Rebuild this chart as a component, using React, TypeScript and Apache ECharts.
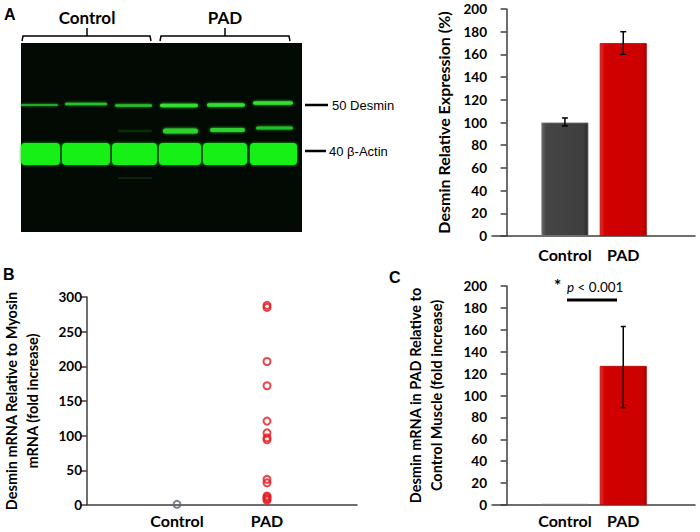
import React, { useEffect, useRef } from "react";
import * as echarts from "echarts";

// ---------- data ----------
const categories = ["Control", "PAD"];
// Panel A: desmin relative expression (%)
const aValues = [100, 170];
const aErrLow = [97, 160];
const aErrHigh = [104, 180];
// Panel B: desmin mRNA relative to myosin mRNA (fold increase)
const bControl = [1];
const bPAD = [288, 285, 207, 172, 121, 104, 97, 94, 37, 32, 13, 11, 9, 7];
// Panel C: desmin mRNA in PAD relative to control muscle (fold increase)
const cValues = [1, 127];
const cErrLow = [null, 89];
const cErrHigh = [null, 163];

const FONT = "Lato";
const AXIS_COLOR = "#3f3f3f";

function barColor(i: number) {
  return i === 0
    ? new echarts.graphic.LinearGradient(0, 0, 1, 0, [
        { offset: 0, color: "#666666" },
        { offset: 0.1, color: "#454545" },
        { offset: 0.9, color: "#3e3e3e" },
        { offset: 1, color: "#2a2a2a" },
      ])
    : new echarts.graphic.LinearGradient(0, 0, 1, 0, [
        { offset: 0, color: "#e4322c" },
        { offset: 0.1, color: "#d20000" },
        { offset: 0.9, color: "#cc0000" },
        { offset: 1, color: "#a80000" },
      ]);
}

function errorRender(halfCap: number) {
  return (params: any, api: any) => {
    const x = api.value(0);
    const lo = api.value(1);
    const hi = api.value(2);
    const top = api.coord([x, hi]);
    const bot = api.coord([x, lo]);
    const st = { stroke: "#000", lineWidth: 1.5 };
    return {
      type: "group",
      children: [
        { type: "line", shape: { x1: top[0], y1: top[1], x2: bot[0], y2: bot[1] }, style: st },
        { type: "line", shape: { x1: top[0] - halfCap, y1: top[1], x2: top[0] + halfCap, y2: top[1] }, style: st },
        { type: "line", shape: { x1: bot[0] - halfCap, y1: bot[1], x2: bot[0] + halfCap, y2: bot[1] }, style: st },
      ],
    };
  };
}

const catXAxis = (gridIndex: number, min: number, max: number, margin: number) => ({
  type: "value",
  gridIndex,
  min,
  max,
  splitLine: { show: false },
  axisLine: { show: true, onZero: false, lineStyle: { color: AXIS_COLOR, width: 1.5 } },
  axisTick: { show: false },
  axisLabel: {
    customValues: [1, 2],
    formatter: (v: number) => categories[Math.round(v) - 1] ?? "",
    fontFamily: FONT,
    fontWeight: "bold",
    fontSize: 16,
    lineHeight: 16,
    color: "#000",
    margin,
  },
});

const valYAxis = (gridIndex: number, max: number, interval: number, name: string, nameGap: number, nameSize: number) => ({
  type: "value",
  gridIndex,
  min: 0,
  max,
  interval,
  splitLine: { show: false },
  axisLine: { show: true, lineStyle: { color: AXIS_COLOR, width: 1.5 } },
  axisTick: { show: true, length: 6, lineStyle: { color: AXIS_COLOR, width: 1.5 } },
  axisLabel: { fontFamily: FONT, fontWeight: "bold", fontSize: 13.5, color: "#000", margin: 5 },
  name,
  nameLocation: "middle",
  nameGap,
  nameTextStyle: { fontFamily: FONT, fontWeight: "bold", fontSize: nameSize, color: "#000", lineHeight: 21 },
});

// ---------- western blot picture (panel A, left) ----------
const lanes = [
  { x: 21, w: 37 },
  { x: 65, w: 42 },
  { x: 115, w: 37 },
  { x: 160, w: 38 },
  { x: 207, w: 38 },
  { x: 253, w: 40 },
];
const desminBand = [
  { dy: 0, h: 2, c: "#28a828" },
  { dy: -1, h: 2.5, c: "#2cc02c" },
  { dy: 0.5, h: 2.5, c: "#2cc02c" },
  { dy: 0.5, h: 3.5, c: "#33e033" },
  { dy: 0, h: 3.5, c: "#33e033" },
  { dy: -2, h: 3.5, c: "#33e033" },
];
const midBand = [
  null,
  null,
  { dy: 0, h: 2, c: "#0a2a0a" },
  { dy: 0, h: 5, c: "#2ed02e" },
  { dy: -1, h: 4, c: "#2ed02e" },
  { dy: -3, h: 3, c: "#28c028" },
];
const actinLanes = [
  { x: 21, w: 39 },
  { x: 62, w: 48 },
  { x: 112, w: 45 },
  { x: 159, w: 42 },
  { x: 203, w: 44 },
  { x: 250, w: 47 },
];

function blotGraphics() {
  const g: any[] = [];
  g.push({ type: "rect", shape: { x: 21, y: 43, width: 281, height: 189 }, style: { fill: "#030903" }, z: 1 });
  lanes.forEach((l, i) => {
    const d = desminBand[i];
    g.push({
      type: "rect",
      shape: { x: l.x, y: 105 + d.dy - d.h / 2, width: l.w, height: d.h, r: d.h / 2 },
      style: { fill: d.c, shadowBlur: 3, shadowColor: d.c },
      z: 2,
    });
    const m = midBand[i];
    if (m) {
      g.push({
        type: "rect",
        shape: { x: l.x + 3, y: 131 + m.dy - m.h / 2, width: l.w - 3, height: m.h, r: m.h / 2 },
        style: { fill: m.c, shadowBlur: 3, shadowColor: m.c },
        z: 2,
      });
    }
  });
  actinLanes.forEach((l) => {
    g.push({
      type: "rect",
      shape: { x: l.x, y: 143, width: l.w, height: 22, r: 4 },
      style: { fill: "#18f018", shadowBlur: 3, shadowColor: "#10c010" },
      z: 2,
    });
  });
  g.push({ type: "rect", shape: { x: 118, y: 177, width: 34, height: 2 }, style: { fill: "#0b240b" }, z: 2 });
  // brackets
  const bst = { stroke: "#000", lineWidth: 1.5, fill: "none" };
  g.push({ type: "polyline", shape: { points: [[22, 41], [23, 36], [150, 36], [151, 41]] }, style: bst, z: 3 });
  g.push({ type: "line", shape: { x1: 87, y1: 36, x2: 87, y2: 28 }, style: bst, z: 3 });
  g.push({ type: "polyline", shape: { points: [[160, 41], [161, 36], [289, 36], [290, 41]] }, style: bst, z: 3 });
  g.push({ type: "line", shape: { x1: 225, y1: 36, x2: 225, y2: 28 }, style: bst, z: 3 });
  g.push({ type: "text", x: 87, y: 17, style: { text: "Control", font: `bold 17px ${FONT}`, fill: "#000", textAlign: "center", textVerticalAlign: "middle" }, z: 3 });
  g.push({ type: "text", x: 225, y: 17, style: { text: "PAD", font: `bold 17px ${FONT}`, fill: "#000", textAlign: "center", textVerticalAlign: "middle" }, z: 3 });
  // size markers
  g.push({ type: "line", shape: { x1: 305, y1: 105, x2: 328, y2: 105 }, style: { stroke: "#000", lineWidth: 2.5 }, z: 3 });
  g.push({ type: "text", x: 332, y: 105, style: { text: "50 Desmin", font: "13px 'Liberation Sans'", fill: "#000", textAlign: "left", textVerticalAlign: "middle" }, z: 3 });
  g.push({ type: "line", shape: { x1: 305, y1: 151, x2: 326, y2: 151 }, style: { stroke: "#000", lineWidth: 2.5 }, z: 3 });
  g.push({ type: "text", x: 329, y: 151, style: { text: "40 β-Actin", font: "13px 'Liberation Sans'", fill: "#000", textAlign: "left", textVerticalAlign: "middle" }, z: 3 });
  return g;
}

function panelLetters() {
  const f = "bold 16px 'Liberation Sans'";
  return [
    { type: "text", x: 4, y: 14, style: { text: "A", font: f, fill: "#000", textVerticalAlign: "middle" }, z: 3 },
    { type: "text", x: 3, y: 274, style: { text: "B", font: f, fill: "#000", textVerticalAlign: "middle" }, z: 3 },
    { type: "text", x: 389, y: 277, style: { text: "C", font: f, fill: "#000", textVerticalAlign: "middle" }, z: 3 },
    // significance annotation in panel C
    { type: "text", x: 554, y: 285, style: { text: "*", font: `bold 17px ${FONT}`, fill: "#000", textVerticalAlign: "middle" }, z: 3 },
    {
      type: "text",
      x: 567,
      y: 287,
      style: {
        text: "{p|p} {n|< 0.001}",
        rich: {
          p: { fontFamily: FONT, fontStyle: "italic", fontSize: 13.5, fill: "#000" },
          n: { fontFamily: FONT, fontSize: 13.5, fill: "#000" },
        },
        font: `13.5px ${FONT}`,
        fill: "#000",
        textVerticalAlign: "middle",
      },
      z: 3,
    },
    { type: "line", shape: { x1: 567, y1: 300, x2: 617, y2: 300 }, style: { stroke: "#000", lineWidth: 3 }, z: 3 },
  ];
}

export default function App() {
  const ref = useRef<HTMLDivElement>(null);
  useEffect(() => {
    document.body.style.margin = "0";
    if (!ref.current) return;
    const chart = echarts.init(ref.current, undefined, { renderer: "svg" });
    const option: any = {
      animation: false,
      backgroundColor: "#fff",
      grid: [
        { left: 492, top: 9, width: 203, height: 227 },
        { left: 74, top: 297, width: 283, height: 208 },
        { left: 492, top: 286, width: 203, height: 219 },
      ],
      xAxis: [catXAxis(0, -0.25, 3.23, 10), catXAxis(1, 0, 3, 7), catXAxis(2, -0.25, 3.23, 7)],
      yAxis: [
        valYAxis(0, 200, 20, "Desmin Relative Expression (%)", 38, 16),
        valYAxis(1, 300, 50, "Desmin mRNA Relative to Myosin\nmRNA (fold increase)", 44, 14.5),
        valYAxis(2, 200, 20, "Desmin mRNA in PAD Relative to\nControl Muscle (fold increase)", 45, 14.5),
      ],
      series: [
        {
          type: "bar",
          xAxisIndex: 0,
          yAxisIndex: 0,
          barWidth: 47,
          data: aValues.map((v, i) => ({
            value: [i + 1, v],
            itemStyle: { color: barColor(i), borderColor: i === 0 ? "#7a7a7a" : "#b80000", borderWidth: 0.8 },
          })),
        },
        {
          type: "custom",
          xAxisIndex: 0,
          yAxisIndex: 0,
          renderItem: errorRender(3),
          encode: { x: 0, y: [1, 2] },
          data: aValues.map((_, i) => [i + 1, aErrLow[i], aErrHigh[i]]),
          z: 5,
        },
        {
          type: "scatter",
          xAxisIndex: 1,
          yAxisIndex: 1,
          symbol: "circle",
          symbolSize: 7,
          itemStyle: { color: "rgba(0,0,0,0)", borderColor: "#5d6878", borderWidth: 2 },
          data: bControl.map((v) => [1, v]),
        },
        {
          type: "scatter",
          xAxisIndex: 1,
          yAxisIndex: 1,
          symbol: "circle",
          symbolSize: 7,
          itemStyle: { color: "rgba(0,0,0,0)", borderColor: "#e8141b", borderWidth: 2 },
          data: bPAD.map((v) => [2, v]),
        },
        {
          type: "bar",
          xAxisIndex: 2,
          yAxisIndex: 2,
          barWidth: 47,
          data: cValues.map((v, i) => ({
            value: [i + 1, v],
            itemStyle: { color: barColor(i), borderColor: i === 0 ? "#7a7a7a" : "#b80000", borderWidth: 0.8 },
          })),
        },
        {
          type: "custom",
          xAxisIndex: 2,
          yAxisIndex: 2,
          renderItem: errorRender(2.5),
          encode: { x: 0, y: [1, 2] },
          data: cValues
            .map((_, i) => [i + 1, cErrLow[i], cErrHigh[i]])
            .filter((d) => d[1] !== null),
          z: 5,
        },
      ],
      graphic: [...blotGraphics(), ...panelLetters()],
    };
    chart.setOption(option);
    return () => chart.dispose();
  }, []);
  return <div ref={ref} style={{ width: 700, height: 532 }} />;
}
